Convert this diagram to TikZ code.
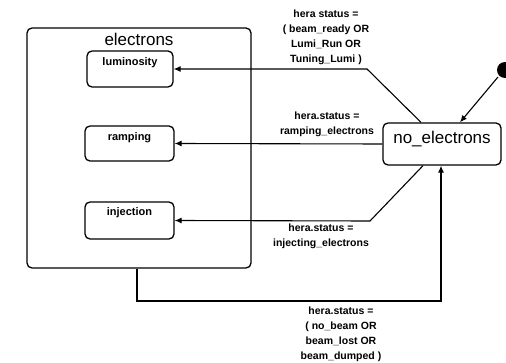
\documentclass[tikz,border=0pt]{standalone}
\usepackage{fontspec}
\setmainfont{Liberation Sans}
\usetikzlibrary{arrows.meta}
\begin{document}
\begin{tikzpicture}[x=1pt,y=-1pt,
  statebox/.style={draw,line width=1.3pt,rounded corners=5pt,inner sep=0pt},
  innerlabel/.style={font=\fontsize{11}{13}\selectfont\bfseries,anchor=north,inner sep=0pt},
  guard/.style={font=\fontsize{10.5}{15}\selectfont\bfseries,align=center,inner sep=0pt},
  trans/.style={line width=1.1pt,-{Latex[length=7pt,width=6pt]}},
  link/.style={line width=1.1pt}]
\useasboundingbox (0,0) rectangle (506,363);

% superstate and its substates
\node[statebox,minimum width=224pt,minimum height=240pt] (elec) at (139,148) {};
\node[font=\fontsize{17}{19}\selectfont,anchor=north,inner sep=0pt] (electitle) at (139,33) {electrons};
\node[statebox,minimum width=86pt,minimum height=36pt] (lum) at (130,69) {};
\node[innerlabel] (lumtxt) at (130,57) {luminosity};
\node[statebox,minimum width=89pt,minimum height=35pt] (ramp) at (129.5,143.5) {};
\node[innerlabel] (ramptxt) at (129.5,132) {ramping};
\node[statebox,minimum width=89pt,minimum height=37pt] (inj) at (129.5,220.5) {};
\node[innerlabel] (injtxt) at (129.5,207) {injection};

% the idle state and the initial marker
\node[statebox,minimum width=118pt,minimum height=42pt] (noe) at (442,144) {};
\node[font=\fontsize{17}{19}\selectfont,inner sep=0pt] (noetxt) at (442,139) {no\_electrons};
\fill (505,70) circle (8pt) coordinate (init);

% bend points
\coordinate (b1) at (367,69);
\coordinate (b3) at (370,221);
\coordinate (d1) at (137,301);
\coordinate (d2) at (441,301);

% transitions
\draw[trans] (noe.north -| 421,0) -- (b1) -- (lum.east);
\draw[trans] (noe.west) -- (ramp.east);
\draw[trans] (noe.south -| 423,0) -- (b3) -- (inj.east);
\draw[trans] (elec.south -| d1) -- (d1) -- (d2) -- (noe.south -| d2);
\draw[trans] (init) ++(-7,7) coordinate (initfoot) (initfoot) -- (noe.north -| 460,0);

% guards
\node[guard] (g1) at (326,37) {hera status =\\( beam\_ready OR\\Lumi\_Run OR\\Tuning\_Lumi )};
\node[guard] (g2) at (327,124) {hera.status =\\ramping\_electrons};
\node[guard] (g3) at (321,236) {hera.status =\\injecting\_electrons};
\node[guard] (g4) at (341,334) {hera.status =\\( no\_beam OR\\beam\_lost OR\\beam\_dumped )};
\end{tikzpicture}
\end{document}
